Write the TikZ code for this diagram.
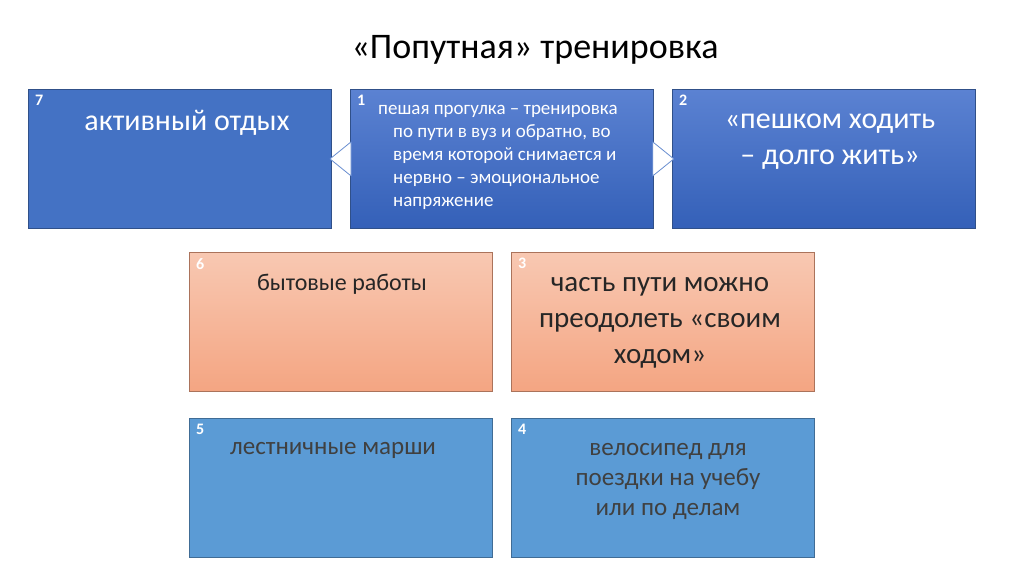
\documentclass[tikz,border=0pt]{standalone}
\usepackage{fontspec}
\setmainfont{Carlito}
\begin{document}
\begin{tikzpicture}[x=1pt,y=-1pt,
 bx/.style={draw=#1!70!black,line width=0.8pt,minimum width=303pt,minimum height=139pt,anchor=north west,inner sep=0pt},
 num/.style={anchor=north west,font=\bfseries\fontsize{16}{18}\selectfont,text=white,inner sep=0pt},
 tri/.style={fill=white,draw=b1!80,line width=0.8pt,line join=round}]
\useasboundingbox (0,0) rectangle (1024,574);
\definecolor{b1}{HTML}{4472C4}\definecolor{b2}{HTML}{5B82D2}\definecolor{b3}{HTML}{3460B8}
\definecolor{s1}{HTML}{F8C8B2}\definecolor{s2}{HTML}{F4A582}
\definecolor{l1}{HTML}{5B9BD5}
\node (title) at (535,50) {\fontsize{36}{40}\selectfont «Попутная» тренировка};
\node[bx=b1,fill=b1] (n7) at (28,89) {};
\node[bx=b1,top color=b2,bottom color=b3] (n1) at (350,89) {};
\node[bx=b1,top color=b2,bottom color=b3] (n2) at (672,89) {};
\node[bx=s2,top color=s1,bottom color=s2] (n6) at (189,252) {};
\node[bx=s2,top color=s1,bottom color=s2] (n3) at (511,252) {};
\node[bx=l1,fill=l1] (n5) at (189,418) {};
\node[bx=l1,fill=l1] (n4) at (511,418) {};
\foreach \n/\t in {n7/7,n1/1,n2/2,n6/6,n3/3,n5/5,n4/4}{\node[num] at ([shift={(7,6)}]\n.north west) {\t};}
\draw[tri] ([yshift=17pt,xshift=1pt]n1.west) -- ([xshift=-20pt]n1.west) -- ([yshift=-17pt,xshift=1pt]n1.west) -- cycle;
\draw[tri] ([yshift=17pt,xshift=-1pt]n1.east) -- ([xshift=20pt]n1.east) -- ([yshift=-17pt,xshift=-1pt]n1.east) -- cycle;
\node[text=white,font=\fontsize{30}{34}\selectfont] (t7) at (187,123) {активный отдых};
\node[text=white,font=\fontsize{19}{23}\selectfont,align=left,anchor=north west,inner sep=0pt] (t1) at (378,105) {пешая прогулка – тренировка\\\hspace*{15pt}по пути в вуз и обратно, во\\\hspace*{15pt}время которой снимается и\\\hspace*{15pt}нервно – эмоциональное\\\hspace*{15pt}напряжение};
\node[text=white,font=\fontsize{30}{36}\selectfont,align=center] (t2) at (830,142) {«пешком ходить\\– долго жить»};
\node[text=black!85,font=\fontsize{24}{28}\selectfont] (t6) at (342,284) {бытовые работы};
\node[text=black!85,font=\fontsize{29}{36}\selectfont,align=center] (t3) at (660,323) {часть пути можно\\преодолеть «своим\\ходом»};
\node[text=black!75,font=\fontsize{25}{28}\selectfont] (t5) at (333,450) {лестничные марши};
\node[text=black!75,font=\fontsize{25}{30}\selectfont,align=center] (t4) at (668,481) {велосипед для\\поездки на учебу\\или по делам};
\end{tikzpicture}
\end{document}
